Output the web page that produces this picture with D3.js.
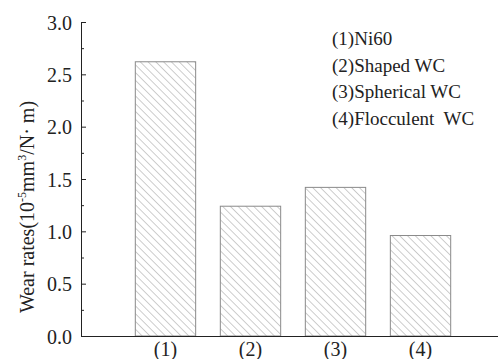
<!DOCTYPE html>
<html>
<head>
<meta charset="utf-8">
<script src="https://cdn.jsdelivr.net/npm/d3@7"></script>
<style>
  body { margin: 0; background: #fff; }
  svg text { font-family: "Liberation Serif", "Times New Roman", serif; fill: #222; }
</style>
</head>
<body>
<div id="chart"></div>
<script>
const categories = ["(1)", "(2)", "(3)", "(4)"];
const wearRates = [2.62, 1.24, 1.42, 0.96];
const legendLabels = ["(1)Ni60", "(2)Shaped WC", "(3)Spherical WC", "(4)Flocculent  WC"];
const yTicks = [0, 0.5, 1.0, 1.5, 2.0, 2.5, 3.0];

const W = 499, H = 359;
const svg = d3.select("#chart").append("svg")
    .attr("width", W)
    .attr("height", H);

// hatch pattern for bars
const defs = svg.append("defs");
defs.append("pattern")
    .attr("id", "hatch")
    .attr("patternUnits", "userSpaceOnUse")
    .attr("width", 5.5)
    .attr("height", 5.5)
    .attr("patternTransform", "rotate(-45)")
  .append("line")
    .attr("x1", 0).attr("y1", 0)
    .attr("x2", 0).attr("y2", 5.5)
    .attr("stroke", "#9a9a9a")
    .attr("stroke-width", 1);

const x = d3.scaleBand()
    .domain(categories)
    .range([86, 500])
    .paddingInner(0.29)
    .paddingOuter(0.58);

const y = d3.scaleLinear()
    .domain([0, 3])
    .range([336, 22]);

// bars
svg.selectAll(".bar")
    .data(categories)
    .enter()
    .append("rect")
    .attr("class", "bar")
    .attr("x", d => x(d))
    .attr("y", (d, i) => y(wearRates[i]))
    .attr("width", x.bandwidth())
    .attr("height", (d, i) => y(0) - y(wearRates[i]))
    .attr("fill", "url(#hatch)")
    .attr("stroke", "#8a8a8a")
    .attr("stroke-width", 1);

// minor ticks
svg.append("g")
    .attr("transform", "translate(81,0)")
    .call(d3.axisLeft(y).tickValues(d3.range(0.25, 3, 0.5)).tickSizeInner(-3).tickSizeOuter(0).tickFormat(""))
    .call(g => g.select(".domain").remove())
    .selectAll("line").attr("stroke", "#222");

// y axis
const yAxis = svg.append("g")
    .attr("transform", "translate(81,0)")
    .call(d3.axisLeft(y).tickValues(yTicks).tickFormat(d3.format(".1f")).tickSizeInner(-5).tickSizeOuter(0).tickPadding(9));
yAxis.select(".domain").attr("stroke", "#222");
yAxis.selectAll("line").attr("stroke", "#222");
yAxis.selectAll("text")
    .style("font-size", "20px")
    .style("font-family", "'Liberation Serif', serif")
    .attr("dy", "0.35em");

// x axis
const xAxis = svg.append("g")
    .attr("transform", "translate(0,336)")
    .call(d3.axisBottom(x).tickSize(0).tickPadding(6));
xAxis.select(".domain").attr("d", "M81,0.5H498").attr("stroke", "#222");
xAxis.selectAll("text")
    .style("font-size", "20px")
    .style("font-family", "'Liberation Serif', serif");

// y label
const yl = svg.append("text")
    .attr("transform", "translate(34,207) rotate(-90)")
    .attr("text-anchor", "middle")
    .style("font-size", "20px");
yl.append("tspan").text("Wear rates(10");
yl.append("tspan").attr("dy", -8).style("font-size", "12px").text("-5");
yl.append("tspan").attr("dy", 8).text("mm");
yl.append("tspan").attr("dy", -8).style("font-size", "12px").text("3");
yl.append("tspan").attr("dy", 8).text("/N· m)");

// legend text
svg.selectAll(".legend")
    .data(legendLabels)
    .enter()
    .append("text")
    .attr("class", "legend")
    .attr("x", 332)
    .attr("y", (d, i) => 45 + i * 26.5)
    .style("font-size", "19px")
    .style("white-space", "pre")
    .text(d => d);
</script>
</body>
</html>
